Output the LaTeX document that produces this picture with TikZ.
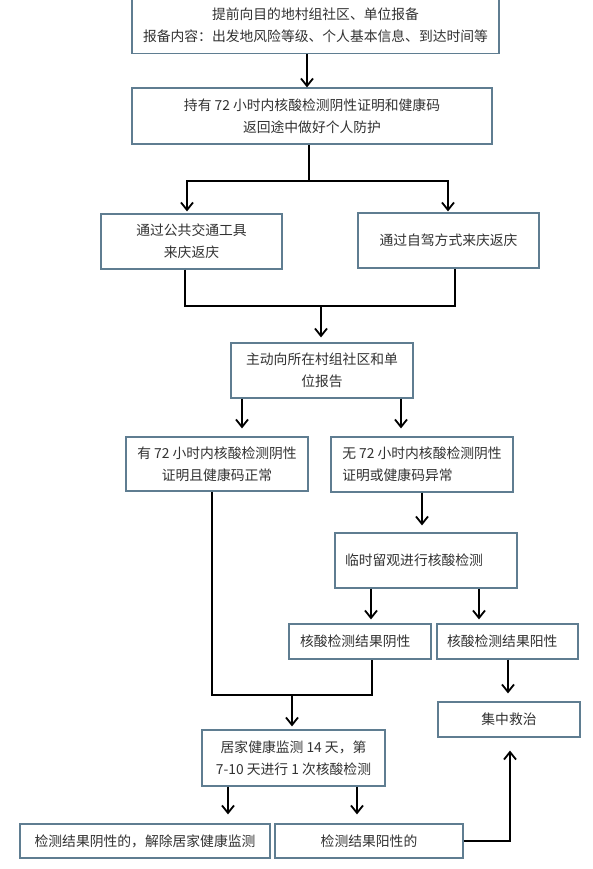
\documentclass[tikz,border=0pt]{standalone}
\usepackage{fontspec}
\newfontfamily\cjk{Noto Sans CJK SC}
\usetikzlibrary{arrows.meta}
\definecolor{boxc}{RGB}{95,125,145}
\definecolor{txt}{RGB}{50,50,50}
\begin{document}
\begin{tikzpicture}[x=1pt,y=-1pt,
 box/.style={draw=boxc, line width=1.2pt, fill=white, text=txt, font=\cjk\fontsize{13.8}{22}\selectfont, align=center, inner sep=0pt},
 lbox/.style={box, align=left},
 flow/.style={line width=1.8pt, draw=black},
 arr/.style={flow, -{Straight Barb[length=7.5pt,width=12pt]}}]
\useasboundingbox (0,0) rectangle (592,869);
% nodes
\node[box, minimum width=367pt, minimum height=56pt] (b1) at (315.5,25.5) {提前向目的地村组社区、单位报备\\报备内容：出发地风险等级、个人基本信息、到达时间等};
\node[box, minimum width=360pt, minimum height=56pt] (b2) at (312,116) {持有 72 小时内核酸检测阴性证明和健康码\\返回途中做好个人防护};
\node[box, minimum width=181pt, minimum height=55pt] (b3) at (191.5,241.5) {通过公共交通工具\\来庆返庆};
\node[box, minimum width=181pt, minimum height=55pt] (b4) at (448.5,240.5) {通过自驾方式来庆返庆};
\node[box, minimum width=182pt, minimum height=55pt] (b5) at (322,370.5) {主动向所在村组社区和单\\位报告};
\node[box, minimum width=182pt, minimum height=54pt] (b6) at (217,464) {有 72 小时内核酸检测阴性\\证明且健康码正常};
\node[lbox, minimum width=182pt, minimum height=55pt] (b7) at (422,464.5) {无 72 小时内核酸检测阴性\\证明或健康码异常};
\node[lbox, text width=162pt, minimum width=182pt, minimum height=55pt] (b8) at (426,560.5) {临时留观进行核酸检测};
\node[lbox, text width=120pt, minimum width=142pt, minimum height=35pt] (b9) at (360,641.5) {核酸检测结果阴性};
\node[lbox, text width=121pt, minimum width=141pt, minimum height=35pt] (b10) at (507.5,641.5) {核酸检测结果阳性};
\node[box, minimum width=183pt, minimum height=56pt] (b11) at (293.5,758) {居家健康监测 14 天，第\\7-10 天进行 1 次核酸检测};
\node[box, minimum width=142pt, minimum height=35pt] (b12) at (509,719.5) {集中救治};
\node[box, minimum width=250pt, minimum height=34pt] (b13) at (145,841) {检测结果阴性的，解除居家健康监测};
\node[box, minimum width=188pt, minimum height=34pt] (b14) at (369,841) {检测结果阳性的};
% column coordinates
\coordinate (v307) at (307,0);
\coordinate (j1) at (309,181);
\coordinate (v187) at (187,0);
\coordinate (v448) at (448,0);
\coordinate (v185) at (185,0);
\coordinate (v455) at (455,0);
\coordinate (j2) at (321,306);
\coordinate (v242) at (242,0);
\coordinate (v401) at (401,0);
\coordinate (v422) at (422,0);
\coordinate (v371) at (371,0);
\coordinate (v479) at (479,0);
\coordinate (v212) at (212,0);
\coordinate (v372) at (372,0);
\coordinate (j3) at (292,695);
\coordinate (v508) at (508,0);
\coordinate (v228) at (228,0);
\coordinate (v357) at (357,0);
\coordinate (v510) at (510,0);
% connectors
\draw[arr] (b1.south -| v307) -- (b2.north -| v307);
\draw[flow] (b2.south -| j1) -- (j1);
\draw[arr, shorten >=2pt] (j1) -| (b3.north -| v187);
\draw[arr, shorten >=1pt] (j1) -| (b4.north -| v448);
\draw[flow] (b3.south -| v185) -- (v185 |- j2) -- (v455 |- j2) -- (b4.south -| v455);
\draw[arr, shorten >=5pt] (j2) -- (b5.north -| j2);
\draw[arr, shorten >=8pt] (b5.south -| v242) -- (b6.north -| v242);
\draw[arr, shorten >=8pt] (b5.south -| v401) -- (b7.north -| v401);
\draw[arr, shorten >=7pt] (b7.south -| v422) -- (b8.north -| v422);
\draw[arr, shorten >=4pt] (b8.south -| v371) -- (b9.north -| v371);
\draw[arr, shorten >=4pt] (b8.south -| v479) -- (b10.north -| v479);
\draw[flow] (b6.south -| v212) -- (v212 |- j3) -- (v372 |- j3) -- (b9.south -| v372);
\draw[arr, shorten >=3pt] (j3) -- (b11.north -| j3);
\draw[arr, shorten >=8pt] (b10.south -| v508) -- (b12.north -| v508);
\draw[arr, shorten >=9pt] (b11.south -| v228) -- (b13.north -| v228);
\draw[arr, shorten >=9pt] (b11.south -| v357) -- (b14.north -| v357);
\draw[arr, shorten >=13pt] (b14.east) -| (b12.south -| v510);
\end{tikzpicture}
\end{document}
